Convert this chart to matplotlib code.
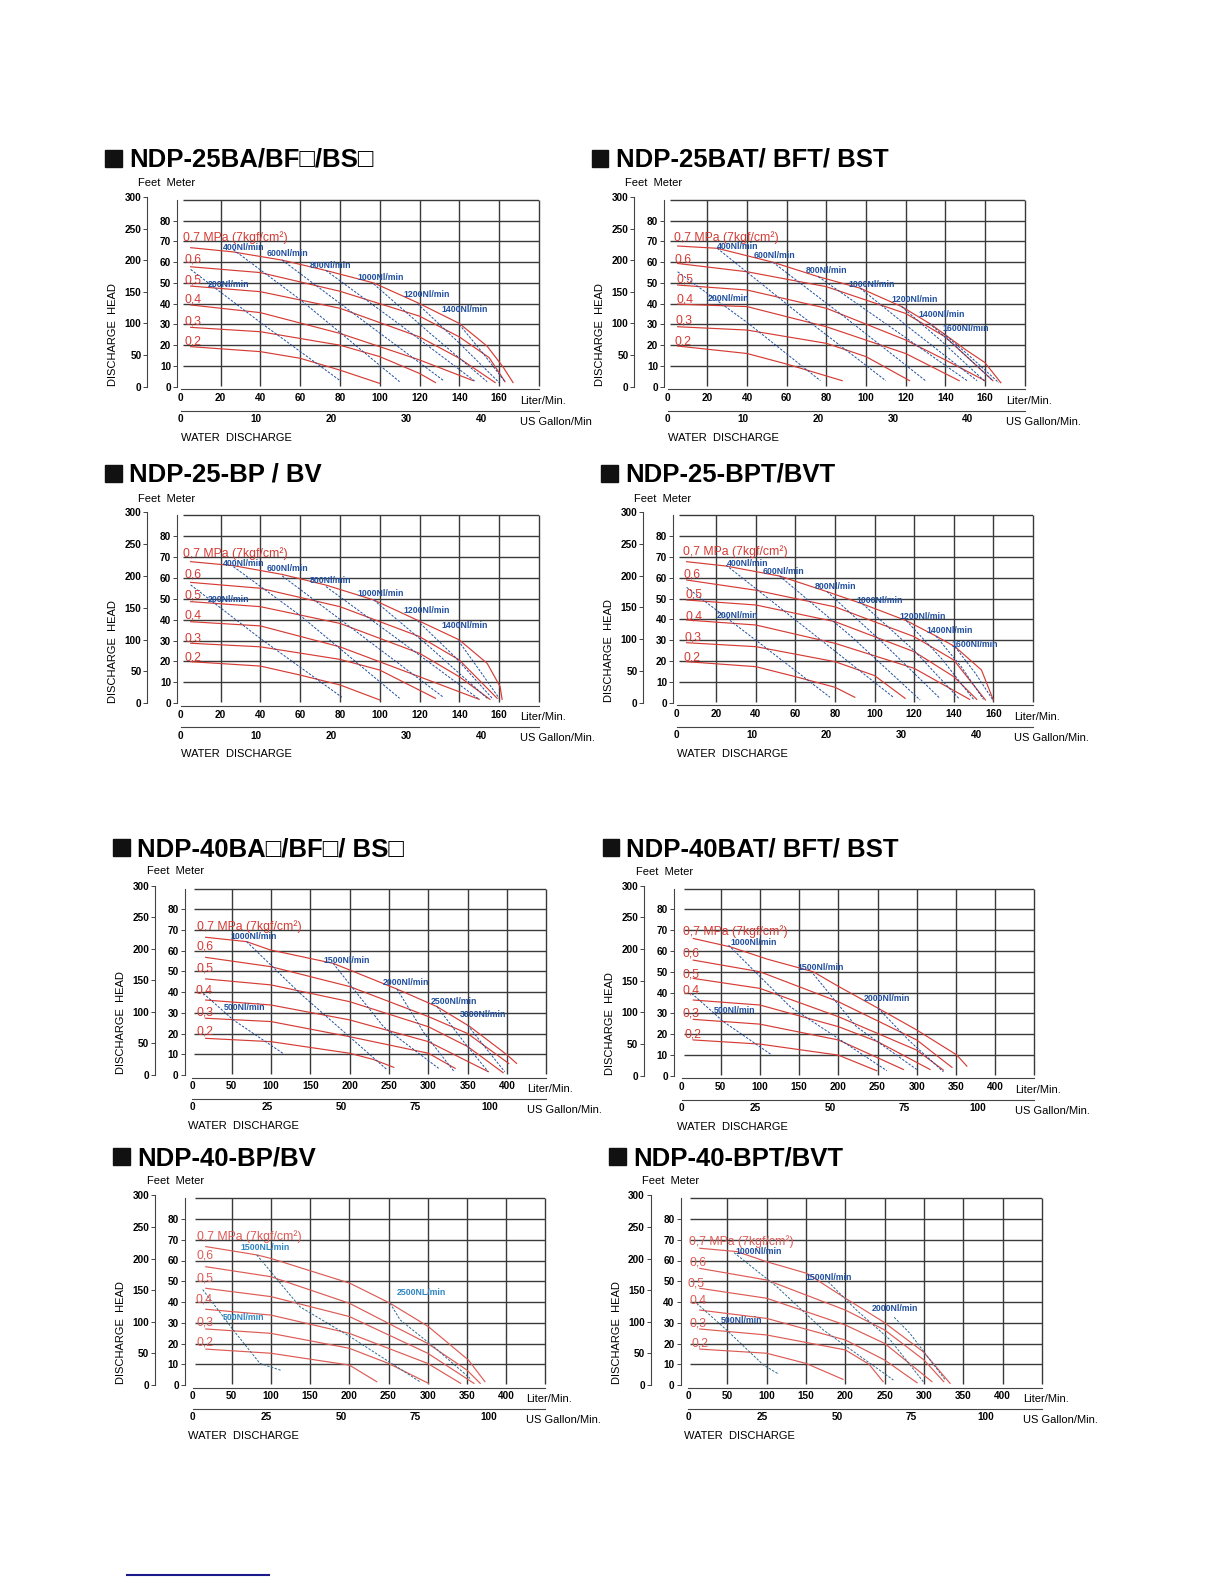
import matplotlib.pyplot as plt
from matplotlib.patches import Rectangle
from matplotlib.lines import Line2D

plt.rcParams['font.family'] = ['Liberation Sans', 'DejaVu Sans']

W, H = 1224, 1584
RED = '#d63c35'
RED_LIGHT = '#dd5b55'
BLUE = '#1f4f9f'
CYAN = '#2e86c4'
GRID = '#3a3a3a'

# ---------------- shared axis labels ----------------
press_names = ['0,7 MPa (7kgf/cm²)', '0,6', '0,5', '0,4', '0,3', '0,2']
meter_ticks = [0, 10, 20, 30, 40, 50, 60, 70, 80]
feet_ticks = [0, 50, 100, 150, 200, 250, 300]
lpm_ticks_25 = [0, 20, 40, 60, 80, 100, 120, 140, 160]
gal_ticks_25 = [0, 10, 20, 30, 40]
lpm_ticks_40 = [0, 50, 100, 150, 200, 250, 300, 350, 400]
gal_ticks_40 = [0, 25, 50, 75, 100]

# ---------------- NDP-25BA/BF/BS ----------------
p1_q = [[5, 26, 51, 73, 97, 119, 140, 154, 162, 167],
        [5, 40, 80, 120, 140, 155, 163],
        [5, 40, 80, 120, 140, 158],
        [5, 40, 80, 120, 147],
        [5, 40, 80, 100, 120, 128],
        [5, 40, 60, 80, 100]]
p1_h = [[67, 65, 61, 56, 50, 40.5, 30.5, 19.5, 9.5, 2],
        [57.8, 55, 46, 34, 24, 14, 2.4],
        [48.5, 45.8, 37.8, 24, 13.7, 2],
        [39.4, 35.7, 25.7, 12.9, 2.9],
        [28.6, 26.5, 20, 14.5, 6.4, 2],
        [19.3, 16.9, 13.7, 8, 1.6]]
p1_air = ['200Nl/min', '400Nl/min', '600Nl/min', '800Nl/min', '1000Nl/min', '1200Nl/min', '1400Nl/min']
p1_air_q = [[5, 40, 80], [26.5, 60, 110], [51, 90, 132], [73, 110, 148],
            [97, 125, 154], [119, 140, 160], [140, 152, 163]]
p1_air_h = [[56.5, 31, 3], [66, 42, 2.4], [61, 33, 3], [56, 30, 2.5],
            [49.5, 26, 2.4], [40, 21, 2], [30, 16, 2.4]]

# ---------------- NDP-25BAT/BFT/BST ----------------
p2_q = [[5, 25, 53, 76, 97, 118, 132, 139, 150, 160, 168],
        [5, 40, 80, 120, 140, 164],
        [5, 40, 80, 120, 140, 160],
        [5, 40, 80, 120, 147],
        [5, 40, 80, 100, 122],
        [5, 40, 60, 88]]
p2_h = [[67.8, 66.7, 60, 53, 47.5, 38.6, 30.5, 25.7, 18, 11.6, 1.9],
        [59.4, 55.4, 48.2, 35.3, 24, 2.9],
        [49, 46.6, 37.8, 22.5, 12.9, 2.9],
        [39.8, 38.6, 28.9, 16, 2.9],
        [28.9, 27.3, 20.9, 14.5, 2.9],
        [19.6, 16, 10.9, 2.9]]
p2_air = ['200Nl/min', '400Nl/min', '600Nl/min', '800Nl/min', '1000Nl/min', '1200Nl/min',
          '1400Nl/min', '1600Nl/min']
p2_air_q = [[5, 40, 77], [25, 65, 110], [53, 90, 130], [76, 112, 151],
            [97, 125, 156], [118, 138, 160], [132, 148, 164], [139, 152, 167]]
p2_air_h = [[55.4, 31, 2.9], [66.7, 36, 2.9], [60, 33, 2.9], [53, 29, 2.9],
            [47.5, 26, 2.9], [38.6, 22, 2.5], [30.5, 17, 2.9], [25.7, 15, 1.9]]

# ---------------- NDP-25-BP/BV ----------------
p3_q = [[5, 26.5, 51, 73, 97, 119, 140, 154, 160.5, 161.5],
        [5, 40, 80, 120, 140, 159],
        [5, 40, 80, 120, 140, 155.4],
        [5, 40, 80, 120, 150],
        [5, 40, 80, 100, 128],
        [5, 40, 60, 80, 100]]
p3_h = [[67.7, 65.8, 61.6, 56.5, 49.4, 39.7, 30.3, 19.1, 8, 1.9],
        [57.8, 55, 46.2, 31.9, 20.7, 2.4],
        [48.6, 46.2, 38.2, 23.9, 12.7, 1.9],
        [39, 37, 27, 12.7, 1.9],
        [28.7, 27, 21, 15.9, 2.4],
        [19.9, 17.8, 13.5, 8.8, 1.6]]
p3_air = p1_air
p3_air_q = [[5, 40, 81], [26.5, 60, 110], [51, 90, 132], [73, 110, 150],
            [97, 125, 154.6], [119, 138, 157], [139.5, 150, 160]]
p3_air_h = [[56.6, 31, 2.9], [65.3, 42, 2.4], [60.9, 33, 2.9], [55.8, 30, 1.9],
            [49.4, 27, 1.9], [39.5, 22, 1.9], [30, 16, 2.4]]

# ---------------- NDP-25-BPT/BVT ----------------
p4_q = [[5, 25, 52, 76, 94, 116, 131, 140.6, 154, 160],
        [5, 40, 80, 120, 140, 156],
        [5, 40, 80, 120, 140, 151.6],
        [5, 40, 80, 120, 148],
        [5, 40, 80, 100, 115.4],
        [5, 40, 60, 80, 90]]
p4_h = [[67.7, 65.6, 60.8, 53.3, 47.4, 39.4, 32, 26.9, 15.7, 1.3],
        [58.9, 54, 46, 31.7, 20.5, 1.3],
        [49.3, 46.9, 38.9, 24.5, 12.5, 1.6],
        [39.7, 37.3, 28.5, 16.5, 1.6],
        [28.8, 26.9, 19.7, 13, 2.1],
        [19.7, 17.3, 12.5, 7.4, 2.6]]
p4_air = p2_air
p4_air_q = [[5, 40, 77.5], [25, 65, 109.5], [52, 88, 123], [76, 105, 133],
            [94, 120, 143], [116, 134, 150], [131, 144, 155], [140.6, 151, 160]]
p4_air_h = [[55.4, 30, 2.6], [66, 36, 2.6], [60.8, 32, 1.3], [53.3, 28, 2.1],
            [47.4, 25, 1.6], [39.4, 21, 1.6], [32, 17, 1.6], [26.9, 14, 1]]

# ---------------- NDP-40BA/BF/BS ----------------
p5_q = [[17, 69, 99, 179, 200, 260, 311, 353, 400, 412],
        [17, 100, 200, 300, 350, 402],
        [17, 100, 200, 300, 350, 395],
        [17, 100, 200, 300, 376],
        [17, 100, 200, 300, 334],
        [17, 100, 200, 230, 256]]
p5_h = [[66.5, 64.4, 60.4, 53.9, 50.7, 41.5, 33, 23.3, 9.7, 5.6],
        [56.8, 52.3, 42.7, 28.2, 20, 5.6],
        [46.4, 43.5, 35.4, 23.3, 13.7, 1.1],
        [36.2, 33.8, 26.6, 16.1, 1.6],
        [27.4, 25.8, 18.5, 10.5, 3.2],
        [17.7, 16.1, 10.5, 7.5, 3.7]]
p5_air = ['500Nl/min', '1000Nl/min', '1500Nl/min', '2000Nl/min', '2500Nl/min', '3000Nl/min']
p5_air_q = [[14, 52, 115], [69, 137, 247], [179, 243, 313], [260, 295, 332],
            [311, 345, 376], [350, 375, 397]]
p5_air_h = [[39.4, 26.6, 10.5], [64.4, 39.4, 2.7], [53.9, 23.3, 3.2], [41.5, 20, 2],
            [33, 16, 1.6], [24, 12, 1.6]]

# ---------------- NDP-40BAT/BFT/BST ----------------
p6_q = [[15, 62, 110, 168, 200, 251, 300, 351, 364],
        [15, 100, 200, 300, 345],
        [15, 100, 200, 300, 334],
        [15, 100, 200, 250, 317],
        [15, 100, 200, 283],
        [15, 100, 200, 249]]
p6_h = [[66, 62, 56, 50, 43, 32.4, 22, 10, 4.6],
        [55.6, 50, 35.6, 17.2, 4],
        [46.8, 42, 28.4, 12.3, 2.7],
        [36.4, 34, 23.6, 16.4, 3],
        [27.1, 24.8, 17.2, 3],
        [17.2, 15.2, 9.9, 2.4]]
p6_air = ['500Nl/min', '1000Nl/min', '1500Nl/min', '2000Nl/min']
p6_air_q = [[13, 53.5, 115], [60, 138.5, 262], [168, 223, 300], [251, 290, 334]]
p6_air_h = [[39.6, 26, 10], [62.8, 33.2, 2.4], [49, 23.6, 3], [32.4, 17, 1.9]]

# ---------------- NDP-40-BP/BV ----------------
p7_q = [[17, 82, 100, 201, 252, 301, 352, 373],
        [17, 100, 200, 300, 350, 367],
        [17, 100, 200, 300, 359],
        [17, 100, 200, 300, 342],
        [17, 100, 200, 250, 301],
        [17, 100, 200, 235]]
p7_h = [[66.7, 62.7, 61, 49, 39.4, 28.1, 12, 1.6],
        [57, 52.2, 39.4, 20, 7.2, 0.8],
        [46.6, 42.6, 33, 15.3, 0.8],
        [36.5, 33.7, 24.9, 10.4, 0.8],
        [27, 24.9, 17.7, 10.4, 0.8],
        [17.3, 15.3, 9.6, 1.6]]
p7_air = ['500Nl/min', '1500NL/min', '2500NL/min']
p7_air_q = [[13, 52, 86, 114], [82, 137, 201, 290], [252, 265, 307.5, 354]]
p7_air_h = [[46, 26.5, 10.4, 6.9], [62.7, 37.7, 23.3, 1.6], [39.4, 31.3, 18.5, 3.2]]

# ---------------- NDP-40-BPT/BVT ----------------
p8_q = [[15, 62, 100, 151, 200, 248, 299, 333],
        [15, 100, 200, 250, 300, 325],
        [15, 100, 200, 250, 310],
        [15, 100, 200, 250, 291],
        [15, 100, 200, 230, 248],
        [15, 100, 150, 197]]
p8_h = [[65.9, 64.3, 59.4, 53.8, 41.8, 30.5, 16, 0.8],
        [56.2, 50.6, 36.1, 26.5, 12, 1.6],
        [46.6, 41.8, 28.9, 20, 1.6],
        [36.1, 32.1, 21.7, 12, 1.1],
        [27, 24.1, 16.9, 10, 1.6],
        [17.3, 15.3, 10.4, 2.7]]
p8_air = ['500Nl/min', '1000Nl/min', '1500Nl/min', '2000Nl/min']
p8_air_q = [[11, 49, 96, 115], [58.5, 112.7, 172, 261], [178, 214, 257, 299], [262, 282, 327]]
p8_air_h = [[39.4, 26.5, 9.6, 5.3], [63.8, 47.4, 26.5, 2.4], [49.8, 36.1, 21.7, 1.6], [32.6, 24.9, 2.4]]

fig = plt.figure(figsize=(W / 100, H / 100), dpi=100)
fig.patch.set_facecolor('white')


def fx(x):
    return x / W


def fy(y):
    return 1 - y / H


def panel(title, tpos, x0, m0, pxL, pxm, big, rq, rh, names, aq, ah, rlab, alab,
          gal_text='US Gallon/Min.', rcol=RED, acol=BLUE, lcol=BLUE):
    xmax = 450 if big else 180
    step = 50 if big else 20
    wpx = xmax * pxL
    hpx = 92 * pxm
    ax = fig.add_axes([fx(x0), fy(m0), wpx / W, hpx / H])
    ax.set_xlim(0, xmax)
    ax.set_ylim(0, 92)
    ax.patch.set_alpha(0)

    # grid
    ax.vlines(range(step, xmax + 1, step), 0.5, 90, color=GRID, lw=1.0, zorder=1, clip_on=False)
    ax.hlines(range(10, 91, 10), xmax * 0.006, xmax, color=GRID, lw=1.0, zorder=1)

    dm = 7.3 if big else 3.4
    dfeet = 37.5 if big else 33.4
    for s in ['top', 'right']:
        ax.spines[s].set_visible(False)
    ax.spines['left'].set_position(('outward', dm * 0.72))
    ax.spines['left'].set_bounds(0, 90)
    ax.spines['bottom'].set_position(('outward', 2.6 * 0.72))
    ax.spines['bottom'].set_bounds(0, xmax)
    for s in ['left', 'bottom']:
        ax.spines[s].set_color('#444444')
        ax.spines[s].set_linewidth(0.8)

    ax.set_yticks(meter_ticks, [str(t) for t in meter_ticks], fontsize=7.2, fontweight='bold')
    ax.tick_params(axis='y', length=2.9, width=0.7, pad=1.6, color='#444444')
    lt = lpm_ticks_40 if big else lpm_ticks_25
    ax.set_xticks(lt, [str(t) for t in lt], fontsize=7.2, fontweight='bold')
    ax.tick_params(axis='x', length=0, pad=2.8)

    feet = ax.secondary_yaxis(-dfeet / wpx, functions=(lambda m: m * 3.28084, lambda f: f / 3.28084))
    feet.set_yticks(feet_ticks, [str(t) for t in feet_ticks], fontsize=7.2, fontweight='bold')
    feet.tick_params(length=2.9, width=0.7, pad=1.2, color='#444444')
    feet.spines['left'].set_bounds(0, 300)
    feet.spines['left'].set_color('#444444')
    feet.spines['left'].set_linewidth(0.8)

    gal = ax.secondary_xaxis(-24 / hpx, functions=(lambda q: q / 3.785, lambda g: g * 3.785))
    gt = gal_ticks_40 if big else gal_ticks_25
    gal.set_xticks(gt, [str(t) for t in gt], fontsize=7.2, fontweight='bold')
    gal.tick_params(length=0, pad=2.5)
    gal.spines['bottom'].set_color('#444444')
    gal.spines['bottom'].set_linewidth(0.8)

    # curves
    for q, h in zip(rq, rh):
        ax.plot(q, h, color=rcol, lw=0.85, zorder=3)
    for q, h in zip(aq, ah):
        ax.plot(q, h, color=acol, lw=0.7, ls=(0, (2.5, 1.5)), zorder=3)
    for name, (lx, ly) in zip(press_names, rlab):
        ax.text(lx, ly, name, color=rcol, fontsize=8.8, va='center', ha='left', zorder=4)
    for name, (lx, ly) in zip(names, alab):
        ax.text(lx, ly, name, color=lcol, fontsize=6.3, fontweight='bold', va='center', ha='left', zorder=4)

    # page texts
    right = x0 + wpx
    fig.text(fx(x0 - (45.6 if big else 42.4)), fy(m0 - 204), 'Feet  Meter', fontsize=8, va='center')
    fig.text(fx(x0 - (71.5 if big else 68)), fy(m0 - 52), 'DISCHARGE  HEAD', fontsize=8,
             rotation=90, va='center', ha='center')
    fig.text(fx(right - 19), fy(m0 + 14), 'Liter/Min.', fontsize=8, va='center')
    fig.text(fx(right - 19), fy(m0 + 35), gal_text, fontsize=8, va='center')
    fig.text(fx(x0 - (4.5 if big else 0)), fy(m0 + 51), 'WATER  DISCHARGE', fontsize=8, va='center')

    sqx, tx, base = tpos
    fig.add_artist(Rectangle((fx(sqx), fy(base)), 16.7 / W, 16.7 / H,
                             transform=fig.transFigure, color='#111111'))
    fig.text(fx(tx), fy(base), title, fontsize=18.5, fontweight='bold', va='baseline', ha='left')
    return ax


panel('NDP-25BA/BF□/BS□', (105, 129.3, 166.7), 180.7, 386.7, 1.99, 2.075, False,
      p1_q, p1_h, p1_air, p1_air_q, p1_air_h,
      [(1.3, 72), (1.7, 61.5), (1.7, 51.4), (1.7, 42), (1.7, 31.3), (1.7, 22)],
      [(13.4, 49.3), (21, 67), (43.2, 64.3), (65, 58.6), (89, 52.5), (112, 44.5), (131, 37.3)],
      gal_text='US Gallon/Min')

panel('NDP-25BAT/ BFT/ BST', (591.7, 616, 166.7), 667.7, 386.7, 1.983, 2.075, False,
      p2_q, p2_h, p2_air, p2_air_q, p2_air_h,
      [(3.4, 72), (3.4, 61.5), (4.2, 51.7), (4.2, 41.8), (3.7, 31.8), (3.4, 21.8)],
      [(20, 42.4), (25, 67.8), (43.2, 63.1), (69.6, 55.9), (91, 49.2), (112.6, 42), (126.4, 35), (138.7, 28.1)])

panel('NDP-25-BP / BV', (105, 129, 481.7), 180.7, 703.3, 1.99, 2.092, False,
      p3_q, p3_h, p3_air, p3_air_q, p3_air_h,
      [(1.3, 71.7), (1.7, 61.4), (1.7, 51.3), (1.7, 41.8), (1.7, 31), (1.7, 21.8)],
      [(13.4, 49.4), (21, 67), (43.2, 64.2), (65, 58.6), (89, 52.6), (112, 44.3), (131, 37.1)])

panel('NDP-25-BPT/BVT', (601, 625, 481.7), 676.7, 702.7, 1.979, 2.083, False,
      p4_q, p4_h, p4_air, p4_air_q, p4_air_h,
      [(3.4, 72.4), (3.4, 61.6), (4.2, 52), (4.2, 41.6), (3.7, 31.5), (3.4, 21.6)],
      [(20.2, 41.9), (25.3, 67), (43.3, 63), (69.6, 56), (91, 49.1), (112.5, 41.6), (126.3, 34.7), (138.6, 27.8)])

panel('NDP-40BA□/BF□/ BS□', (113, 137.3, 856), 192.3, 1075, 0.787, 2.071, True,
      p5_q, p5_h, p5_air, p5_air_q, p5_air_h,
      [(5.5, 71.6), (5.5, 62), (5.5, 51.2), (4.3, 40.9), (5.5, 30.3), (5.5, 20.8)],
      [(39.4, 32.5), (49, 67.1), (166.5, 55.4), (242, 44.7), (303, 35.3), (340, 29)])

panel('NDP-40BAT/ BFT/ BST', (602.7, 626, 856), 681.5, 1075.7, 0.784, 2.079, True,
      p6_q, p6_h, p6_air, p6_air_q, p6_air_h,
      [(1.6, 69.3), (0.8, 58.8), (0.8, 48.9), (1.6, 41), (0.8, 30), (3.8, 19.9)],
      [(41.6, 31.6), (62, 64.2), (148, 52), (233, 37)])

panel('NDP-40-BP/BV', (113, 137.3, 1165), 192.5, 1385, 0.784, 2.075, True,
      p7_q, p7_h, p7_air, p7_air_q, p7_air_h,
      [(5.4, 71.5), (5.4, 62.2), (5.4, 51.4), (4.2, 41), (5.4, 30.2), (5.4, 20.7)],
      [(38.7, 32.4), (60.6, 66.3), (260.6, 44.5)],
      rcol=RED_LIGHT, acol='#2f6a8f', lcol=CYAN)

panel('NDP-40-BPT/BVT', (609, 633.3, 1165), 688, 1385, 0.787, 2.075, True,
      p8_q, p8_h, p8_air, p8_air_q, p8_air_h,
      [(1.7, 69), (1.3, 59.1), (0, 49), (2.5, 40.8), (1.7, 29.7), (4.7, 19.8)],
      [(41.5, 31.3), (60.6, 64.4), (148.7, 52), (233.5, 36.8)],
      rcol=RED_LIGHT, acol='#2f6a8f')

# link underline at the page foot
fig.add_artist(Line2D([fx(126.7), fx(269)], [fy(1575), fy(1575)], color='#1a1a8c', lw=1.5,
                      transform=fig.transFigure))

fig.savefig('out.png', dpi=100)
